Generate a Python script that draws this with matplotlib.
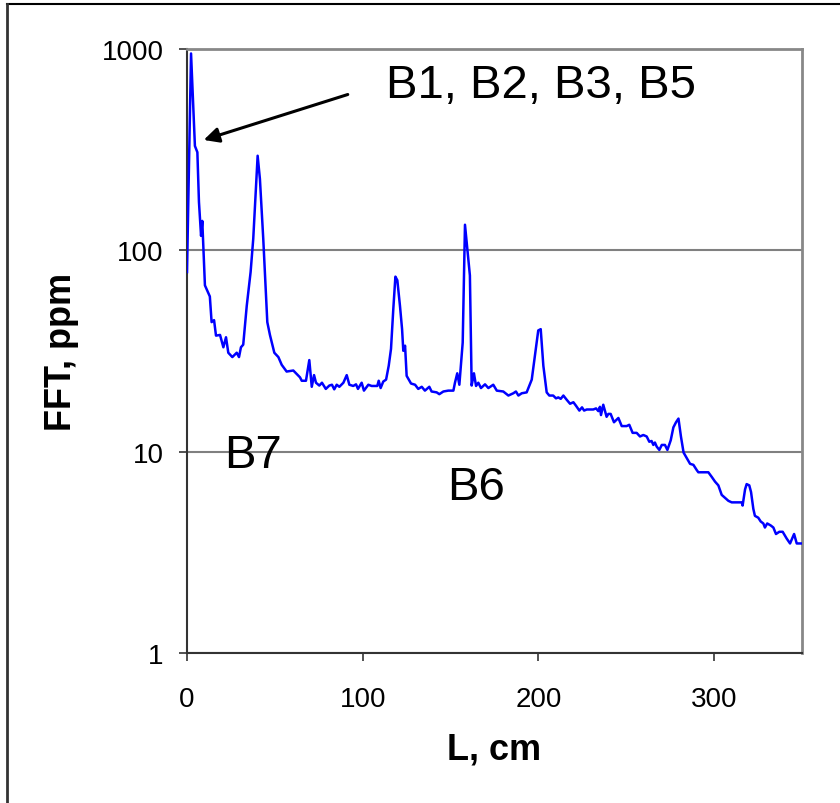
import matplotlib.pyplot as plt
import numpy as np
from matplotlib.lines import Line2D

plt.rcParams['font.family'] = ['Liberation Sans', 'DejaVu Sans']

# FFT spectrum vs. length
L = [0, 2.3, 4.5, 5.9, 6.8, 8.0, 8.7, 10.2, 13.0, 14.0, 15.4, 16.5, 18.8, 20.7,
     22.2, 23.5, 25.8, 28.3, 29.6, 30.7, 32.0, 34.0, 36.2, 37.7, 40.2, 41.5,
     43.4, 45.7, 47.2, 49.7, 52.0, 53.9, 56.7, 60.5, 64.3, 65.3, 67.7, 69.6,
     71.0, 72.3, 73.4, 75.3, 76.8, 79.0, 81.0, 82.5, 83.8, 85.2, 86.7, 89.0,
     90.9, 92.4, 94.6, 96.2, 97.3, 99.4, 100.7, 103.2, 105.1, 108.3, 109.1,
     110.2, 111.7, 113.3, 114.8, 116.1, 117.4, 118.6, 119.7, 121.2, 122.4,
     123.1, 124.1, 125.0, 127.5, 129.8, 131.6, 133.6, 135.4, 137.9, 139.2,
     142.1, 143.6, 145.9, 148.7, 151.6, 152.5, 153.8, 155.0, 156.9, 158.2,
     161.0, 162.0, 163.3, 164.5, 165.8, 167.3, 169.6, 171.5, 174.3, 176.3,
     180.0, 182.9, 185.7, 187.2, 188.6, 190.5, 193.3, 196.2, 198.0, 199.9,
     201.3, 202.8, 204.7, 206.2, 208.4, 210.0, 211.3, 212.7, 214.2, 216.1,
     218.0, 219.9, 221.4, 223.3, 224.8, 226.0, 227.5, 229.4, 231.2, 232.8,
     234.1, 235.0, 235.6, 236.9, 238.8, 239.8, 241.1, 243.0, 245.5, 247.4,
     250.2, 251.7, 253.6, 255.9, 257.8, 259.7, 261.6, 263.1, 264.4, 265.4,
     266.3, 267.3, 268.8, 270.2, 272.0, 273.4, 275.3, 276.8, 278.3, 279.7,
     281.1, 282.6, 284.4, 286.3, 288.2, 290.1, 291.0, 293.9, 296.7, 298.6,
     300.5, 302.4, 304.3, 306.2, 308.1, 310.0, 312.8, 315.7, 316.2, 317.6,
     318.5, 320.0, 321.0, 322.3, 323.2, 325.1, 326.5, 328.0, 328.9, 330.2,
     332.2, 333.7, 335.2, 337.1, 339.0, 341.3, 343.2, 345.5, 347.0, 349.3, 350.0]
fft = [78, 950, 330, 307, 174, 118, 140, 67, 59, 44, 45, 37.7, 38, 33,
       37, 31, 29.5, 31, 29.5, 33, 34, 53, 78, 114, 295, 226,
       114, 44, 38, 31, 29.5, 27, 25, 25.3, 23.4, 22.5, 22.5, 28.5,
       21, 24, 22, 21.3, 22, 20.5, 21.3, 21.5, 20.4, 21.5, 21, 22,
       24, 21.5, 21.2, 21.6, 20.5, 22, 20.1, 21.5, 21.2, 21.2, 22.5,
       20.7, 22.3, 22.8, 26.7, 32.4, 51, 74, 71, 53, 40.6,
       31.7, 33.6, 23.8, 21.8, 21.5, 20.5, 21, 20.1, 21, 19.9,
       19.7, 19.3, 19.9, 20.1, 20.1, 22, 24.5, 21.5, 34.8, 134,
       75, 21.3, 24.5, 21.2, 22, 20.7, 21.6, 20.7, 21.5, 20.1,
       19.9, 19, 19.5, 19.9, 19, 19.5, 19.7, 22.8, 29.9, 40,
       40.6, 26.7, 19.7, 19, 19, 18.4, 18.6, 18.3, 19, 18.1,
       17.3, 17.6, 16.9, 16.0, 16.6, 16.0, 16.2, 16.2, 16.2, 16.4,
       15.9, 16.7, 15.2, 17.1, 14.9, 15.4, 15.4, 14.0, 14.7, 13.4,
       13.4, 13.6, 12.4, 12.4, 11.9, 12.1, 11.9, 11.2, 11.3, 10.8,
       11.1, 10.6, 10.2, 10.8, 10.8, 10.2, 11.4, 13.2, 14.0, 14.6,
       11.9, 9.9, 9.3, 8.7, 8.6, 8.1, 7.9, 7.9, 7.9, 7.5,
       7.1, 6.8, 6.1, 5.9, 5.7, 5.6, 5.6, 5.6, 5.4, 6.5,
       6.9, 6.8, 6.3, 5.2, 4.8, 4.7, 4.5, 4.4, 4.2, 4.4,
       4.3, 4.2, 3.9, 4.0, 4.0, 3.7, 3.5, 3.9, 3.5, 3.5, 3.5]

xticks = [0, 100, 200, 300]
yticks = [1, 10, 100, 1000]

fig = plt.figure(figsize=(8.4, 8.04), dpi=100)
ax = fig.add_axes([187/840, 1 - 654/804, 615/840, 604/804])

ax.plot(L, fft, color='#0000ff', lw=1.8, zorder=3)

ax.set_yscale('log')
ax.set_xlim(0, 350)
ax.set_ylim(1, 1000)
ax.set_xticks(xticks)
ax.set_xticklabels([str(t) for t in xticks])
ax.set_yticks(yticks)
ax.set_yticklabels([str(t) for t in yticks])
ax.yaxis.set_minor_locator(plt.NullLocator())
ax.tick_params(axis='both', labelsize=20, direction='out', length=6,
               width=1.2, color='#333333')
ax.tick_params(axis='x', pad=18)
ax.tick_params(axis='y', pad=11)

ax.grid(axis='y', color='#808080', lw=1.5)
ax.set_axisbelow(True)
for s in ['left', 'bottom']:
    ax.spines[s].set_color('#333333')
    ax.spines[s].set_linewidth(1.5)
for s in ['top', 'right']:
    ax.spines[s].set_color('#888888')
    ax.spines[s].set_linewidth(2)

ax.set_xlabel('L, cm', fontsize=26, fontweight='bold', labelpad=14)
ax.set_ylabel('FFT, ppm', fontsize=26, fontweight='bold', labelpad=16)

ax.annotate('', xy=(8, 350), xytext=(93, 600),
            arrowprops=dict(arrowstyle='-|>,head_length=0.9,head_width=0.45',
                            color='black', lw=2.2))
ax.text(113, 575, 'B1, B2, B3, B5', fontsize=34, va='baseline')
ax.text(21, 8.4, 'B7', fontsize=34, va='baseline')
ax.text(148, 5.8, 'B6', fontsize=34, va='baseline')

# frame around the figure
fig.add_artist(Line2D([7/840, 1], [1 - 5/804, 1 - 5/804], color='black', lw=1.5))
fig.add_artist(Line2D([7/840, 7/840], [0, 1 - 5/804], color='#333333', lw=2))

fig.savefig('out.png', dpi=100)
